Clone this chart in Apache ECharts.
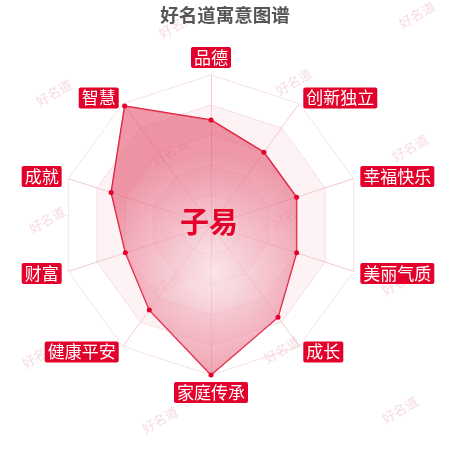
<!DOCTYPE html>
<html><head><meta charset="utf-8">
<script src="https://cdn.jsdelivr.net/npm/echarts@6/dist/echarts.min.js"></script>
<style>html,body{margin:0;padding:0;background:#fff}#c{width:450px;height:450px}</style>
</head><body><div id="c"></div>
<script>
// Indicators in counter-clockwise order starting from top (ECharts radar default)
const indicatorNames = ['品德','智慧','成就','财富','健康平安','家庭传承','成长','美丽气质','幸福快乐','创新独立'];
const indicatorMax = 100;
const values = [70, 98, 70, 60, 70, 100, 76, 60, 60, 60];
const titleText = '好名道寓意图谱';
const centerName = '子易';
const watermarkText = '好名道';
const watermarkSpots = [[177,25],[417,15],[54,93],[294,82],[170,152],[410,148],[47,220],[290,215],[165,285],[400,282],[40,355],[282,350],[160,420],[400,410]];

const chart = echarts.init(document.getElementById('c'));
const graphics = watermarkSpots.map(p => ({
  type: 'text', x: p[0], y: p[1], rotation: Math.PI/6, z: -10, silent: true,
  style: {text: watermarkText, fill: 'rgba(235,165,178,0.4)', font: '13px "Noto Sans CJK SC"', align: 'center', verticalAlign: 'middle'}
}));
graphics.push({
  type: 'text', x: 209, y: 222, z: 100,
  style: {text: centerName, fill: '#e3002a', font: 'bold 29px "Noto Sans CJK SC"', align: 'center', verticalAlign: 'middle'}
});
chart.setOption({
  animation: false,
  title: {text: titleText, left: 'center', top: 1, textStyle: {color: '#555', fontSize: 18.5, fontWeight: 'bold', fontFamily: 'Noto Sans CJK SC'}},
  graphic: graphics,
  radar: {
    center: [211, 225], radius: 150, splitNumber: 5, startAngle: 90,
    indicator: indicatorNames.map(n => ({name: n, max: indicatorMax})),
    axisName: {color: '#fff', backgroundColor: '#e3002a', fontSize: 17, lineHeight: 18, padding: [2, 3, 1, 3], borderRadius: 2, fontFamily: 'Noto Sans CJK SC'},
    nameGap: 7,
    axisLine: {lineStyle: {color: '#f3c9d2', width: 1}},
    splitLine: {lineStyle: {color: '#efc3cd', type: 'dotted', width: 1}},
    splitArea: {show: true, areaStyle: {color: ['rgba(255,255,255,0)', '#fdf3f5']}}
  },
  series: [{
    type: 'radar',
    symbol: 'circle', symbolSize: 5,
    itemStyle: {color: '#e3002a'},
    lineStyle: {color: '#e3102f', width: 1.5},
    areaStyle: {color: {type: 'radial', x: 0.55, y: 0.62, r: 0.65, colorStops: [
      {offset: 0, color: 'rgba(248,222,228,0.95)'},
      {offset: 1, color: 'rgba(228,95,120,0.92)'}
    ]}},
    data: [{value: values, name: centerName}]
  }]
});
</script></body></html>
